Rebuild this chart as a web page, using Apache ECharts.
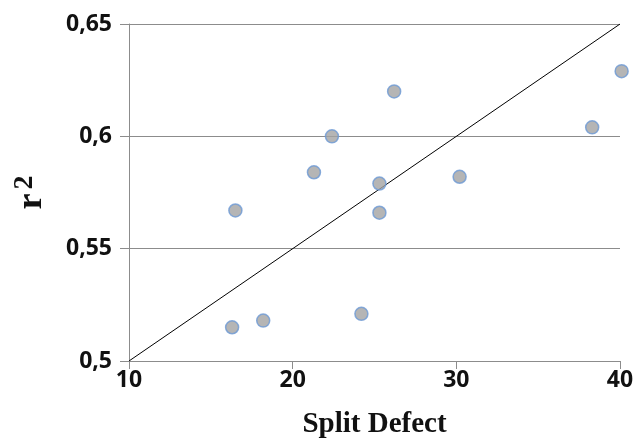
<!DOCTYPE html>
<html>
<head>
<meta charset="utf-8">
<script src="https://cdn.jsdelivr.net/npm/echarts@6/dist/echarts.min.js"></script>
<style>html,body{margin:0;padding:0;background:#fff}#c{width:637px;height:440px}</style>
</head>
<body>
<div id="c"></div>
<script>
// Data
var splitDefect = [16.5, 16.3, 18.2, 24.2, 25.3, 25.3, 21.3, 22.4, 26.2, 30.2, 38.3, 40.1];
var r2Values    = [0.567, 0.515, 0.518, 0.521, 0.566, 0.579, 0.584, 0.600, 0.620, 0.582, 0.604, 0.629];
var refLineX = [10, 40];
var refLineY = [0.5, 0.65];
var xTicks = [10, 20, 30, 40];
var yTicks = [0.5, 0.55, 0.6, 0.65];

var points = splitDefect.map(function (x, i) { return [x, r2Values[i]]; });
var linePts = refLineX.map(function (x, i) { return [x, refLineY[i]]; });

var chart = echarts.init(document.getElementById('c'), null, {renderer: 'canvas'});
chart.setOption({
  animation: false,
  backgroundColor: '#fff',
  grid: {left: 129, right: 17, top: 24, bottom: 79, containLabel: false, outerBoundsMode: 'none'},
  xAxis: {
    type: 'value',
    min: xTicks[0], max: xTicks[xTicks.length - 1], interval: xTicks[1] - xTicks[0],
    name: 'Split Defect',
    nameLocation: 'middle',
    nameGap: 49,
    nameTextStyle: {fontFamily: 'Liberation Serif', fontWeight: 'bold', fontSize: 29, color: '#111'},
    axisLine: {show: true, lineStyle: {color: '#8c8c8c', width: 1}},
    axisTick: {show: true, length: 8, lineStyle: {color: '#8c8c8c'}},
    splitLine: {show: false},
    axisLabel: {fontFamily: 'Open Sans', fontWeight: 'bold', fontSize: 23, color: '#111', margin: 8}
  },
  yAxis: {
    type: 'value',
    min: yTicks[0], max: yTicks[yTicks.length - 1], interval: 0.05,
    name: '{r|r}{s|2}',
    nameLocation: 'middle',
    nameGap: 76,
    nameTextStyle: {
      fontFamily: 'Liberation Serif', fontWeight: 'bold', color: '#111',
      rich: {
        r: {fontFamily: 'Liberation Serif', fontWeight: 'bold', fontSize: 36, color: '#111'},
        s: {fontFamily: 'Liberation Serif', fontWeight: 'bold', fontSize: 28, color: '#111', padding: [0, 0, 14, 4]}
      }
    },
    axisLine: {show: true, lineStyle: {color: '#8c8c8c', width: 1}},
    axisTick: {show: true, length: 9, lineStyle: {color: '#8c8c8c'}},
    splitLine: {show: true, lineStyle: {color: '#8c8c8c', width: 1}},
    axisLabel: {
      fontFamily: 'Open Sans', fontWeight: 'bold', fontSize: 23, color: '#111', margin: 17,
      formatter: function (v) { return String(Math.round(v * 100) / 100).replace('.', ','); }
    }
  },
  series: [
    {
      type: 'line',
      data: linePts,
      symbol: 'none',
      lineStyle: {color: '#000', width: 1},
      z: 2
    },
    {
      type: 'scatter',
      data: points,
      clip: false,
      symbolSize: 13,
      itemStyle: {color: '#a3a3a3', borderColor: '#6b98d4', borderWidth: 1.5},
      z: 3
    }
  ]
});
</script>
</body>
</html>
